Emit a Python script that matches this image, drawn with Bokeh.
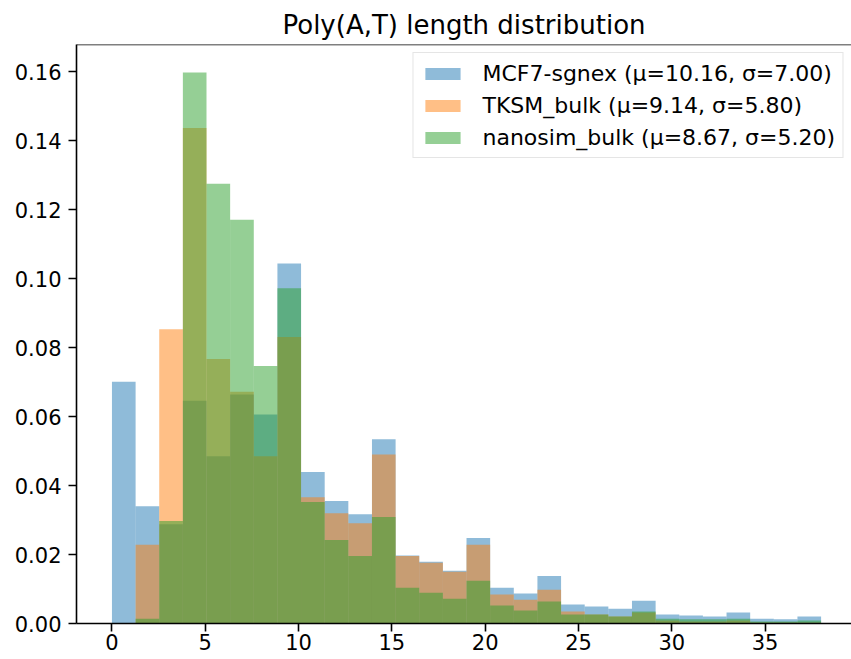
import numpy as np
from bokeh.plotting import figure
from bokeh.models import Range1d, Span, NumeralTickFormatter
from bokeh.embed import file_html
from bokeh.resources import INLINE

# Histogram layout: 30 equal-width bins between 0 and 38
bin_start, bin_stop, n_bins = 0.0, 38.0, 30
edges = np.linspace(bin_start, bin_stop, n_bins + 1)

# Density per bin
mcf7 = [0.0701, 0.0340, 0.0288, 0.0646, 0.0485, 0.0664, 0.0606, 0.1044, 0.0439, 0.0355,
        0.0317, 0.0534, 0.0197, 0.0179, 0.0153, 0.0248, 0.0104, 0.0087, 0.0138, 0.0055,
        0.0049, 0.0043, 0.0066, 0.0026, 0.0023, 0.0020, 0.0032, 0.0014, 0.0012, 0.0020]
tksm = [0.0, 0.0228, 0.0853, 0.1437, 0.0767, 0.0672, 0.0485, 0.0831, 0.0366, 0.0320,
        0.0291, 0.0490, 0.0196, 0.0176, 0.0150, 0.0228, 0.0084, 0.0069, 0.0098, 0.0035,
        0.0026, 0.0020, 0.0032, 0.0009, 0.0006, 0.0006, 0.0009, 0.0003, 0.0003, 0.0003]
nanosim = [0.0, 0.0014, 0.0297, 0.1598, 0.1275, 0.1171, 0.0747, 0.0972, 0.0352, 0.0242,
           0.0196, 0.0309, 0.0104, 0.0089, 0.0072, 0.0124, 0.0052, 0.0038, 0.0064, 0.0026,
           0.0026, 0.0020, 0.0035, 0.0014, 0.0012, 0.0012, 0.0014, 0.0006, 0.0006, 0.0009]

series_labels = ["MCF7-sgnex (\u03bc=10.16, \u03c3=7.00)",
                 "TKSM_bulk (\u03bc=9.14, \u03c3=5.80)",
                 "nanosim_bulk (\u03bc=8.67, \u03c3=5.20)"]
series_colors = ["#1f77b4", "#ff7f0e", "#2ca02c"]

x_ticks = [0, 5, 10, 15, 20, 25, 30, 35]
y_ticks = [0.0, 0.02, 0.04, 0.06, 0.08, 0.10, 0.12, 0.14, 0.16]

x_min, x_max = -1.9, 39.63
y_min, y_max = 0.0, 0.1679

FONT = "DejaVu Sans"

p = figure(width=851, height=659, output_backend="svg", toolbar_location=None,
           x_range=Range1d(x_min, x_max), y_range=Range1d(y_min, y_max),
           min_border_left=76, min_border_right=0, min_border_top=44, min_border_bottom=36,
           title="Poly(A,T) length distribution")

p.title.text_font = FONT
p.title.text_font_size = "26px"
p.title.text_font_style = "normal"
p.title.align = "center"
p.title.text_color = "black"
p.title.standoff = 10

for vals, lab, col in zip([mcf7, tksm, nanosim], series_labels, series_colors):
    p.quad(left=edges[:-1], right=edges[1:], bottom=0, top=vals,
           fill_color=col, fill_alpha=0.5, line_color=None, legend_label=lab)

p.xgrid.visible = False
p.ygrid.visible = False
p.outline_line_color = None

for ax in (p.xaxis[0], p.yaxis[0]):
    ax.axis_line_width = 1.6
    ax.axis_line_color = "black"
    ax.major_tick_line_width = 1.6
    ax.major_tick_line_color = "black"
    ax.major_tick_out = 8
    ax.major_tick_in = 0
    ax.minor_tick_out = 0
    ax.minor_tick_in = 0
    ax.major_label_text_font = FONT
    ax.major_label_text_font_size = "21px"
    ax.major_label_text_color = "black"

p.xaxis.major_label_standoff = 2
p.yaxis.major_label_standoff = 7
p.xaxis.ticker = x_ticks
p.yaxis.ticker = y_ticks
p.yaxis.formatter = NumeralTickFormatter(format="0.00")

p.add_layout(Span(location=y_max, dimension="width", line_color="black", line_width=1.6))

lg = p.legend[0]
lg.location = "top_right"
lg.margin = 8
lg.padding = 7
lg.spacing = 6
lg.glyph_width = 44
lg.glyph_height = 15
lg.label_standoff = 18
lg.label_height = 26
lg.label_text_font = FONT
lg.label_text_font_size = "22px"
lg.label_text_color = "black"
lg.border_line_color = "#cccccc"
lg.border_line_width = 1.5
lg.background_fill_alpha = 0.8

open("out.html", "w").write(file_html(p, INLINE))
